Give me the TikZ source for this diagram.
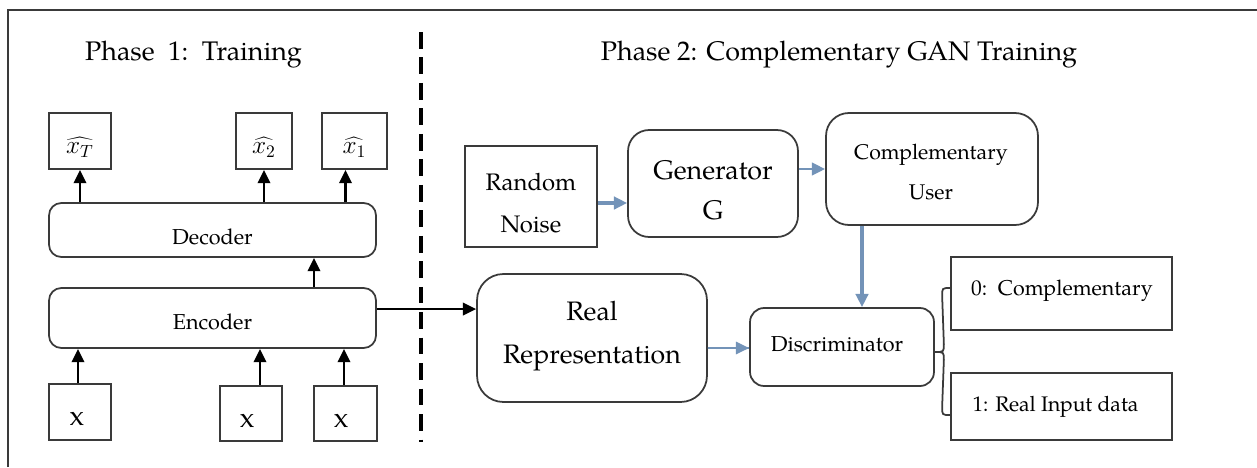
\documentclass[tikz,border=0pt]{standalone}
\usepackage{fontspec}
\setmainfont{TeX Gyre Pagella}
\usetikzlibrary{arrows.meta,calc}
\definecolor{frame}{HTML}{3A3A3A}
\definecolor{steel}{HTML}{7393B8}
\tikzset{
  box/.style={draw=frame, line width=1pt, inner sep=0pt},
  rbox/.style={box, rounded corners=#1},
  txt/.style={inner sep=0pt, align=center},
  blk/.style={draw=black, line width=1.4pt, -{Triangle[width=7pt,length=7.5pt]}},
  blu/.style={draw=steel, line width=1.6pt, -{Triangle[width=7pt,length=7.5pt]}},
}
\begin{document}
\begin{tikzpicture}[x=0.02cm, y=-0.02cm]
\useasboundingbox (0,0) rectangle (1257,467);

% partial outer frame
\draw[frame, line width=1.2pt] (8,467) -- (8,10) -- (1257,10);

% phase separator
\draw[black, line width=2pt, dash pattern=on 9.5pt off 5pt] (421,32) -- (421,442);

% titles
\node[txt, font=\fontsize{15.3}{18}\selectfont] (t1) at (193.5,55) {Phase\ \ 1:\ \ Training};
\node[txt, font=\fontsize{15.3}{18}\selectfont] (t2) at (839,55) {Phase 2: Complementary GAN Training};

% ---- Phase 1: autoencoder ----
\node[box, minimum width=1.24cm, minimum height=1.12cm] (oT) at (80,141) {};
\node[box, minimum width=1.12cm, minimum height=1.12cm] (o2) at (264,141) {};
\node[box, minimum width=1.30cm, minimum height=1.12cm] (o1) at (354.5,141) {};
\node[txt, font=\fontsize{14.5}{16}\selectfont] (loT) at (80,147) {$\widehat{x_T}$};
\node[txt, font=\fontsize{14.5}{16}\selectfont] (lo2) at (264,147) {$\widehat{x_2}$};
\node[txt, font=\fontsize{14.5}{16}\selectfont] (lo1) at (354.5,147) {$\widehat{x_1}$};

\node[rbox=7pt, minimum width=6.54cm, minimum height=1.08cm] (dec) at (212.5,230) {};
\node[txt, font=\fontsize{12.3}{14}\selectfont] (ldec) at (212.5,237) {Decoder};
\node[rbox=7pt, minimum width=6.54cm, minimum height=1.20cm] (enc) at (212.5,318) {};
\node[txt, font=\fontsize{12.3}{14}\selectfont] (lenc) at (212.5,322) {Encoder};

\node[box, minimum width=1.24cm, minimum height=1.12cm] (i1) at (80,412) {};
\node[box, minimum width=1.24cm, minimum height=1.10cm] (i2) at (251,413.5) {};
\node[box, minimum width=1.26cm, minimum height=1.10cm] (i3) at (345.5,413.5) {};
\node[txt, font=\fontsize{16}{18}\selectfont] (li1) at (77,419) {x};
\node[txt, font=\fontsize{16}{18}\selectfont] (li2) at (247,421) {x};
\node[txt, font=\fontsize{16}{18}\selectfont] (li3) at (341,421) {x};

\draw[blk] (dec.north -| oT) -- (oT.south);
\draw[blk] (dec.north -| o2) -- (o2.south);
\draw[blk] ($(dec.north -| o1)+(-9,0)$) coordinate (d1) -- (d1 |- o1.south);
\draw[blk] ($(enc.north)+(101.5,0)$) coordinate (e0) -- (e0 |- dec.south);
\draw[blk] ($(i1.north)+(-2,0)$) coordinate (a1) -- (a1 |- enc.south);
\draw[blk] ($(i2.north)+(9,0)$) coordinate (a2) -- (a2 |- enc.south);
\draw[blk] ($(i3.north)+(-1.5,0)$) coordinate (a3) -- (a3 |- enc.south);

% ---- Phase 2: complementary GAN ----
\node[box, minimum width=2.64cm, minimum height=2.02cm] (rn) at (531,196.5) {};
\node[txt, font=\fontsize{13.6}{24}\selectfont] (lrn) at (531,203) {Random\\Noise};
\node[rbox=12pt, minimum width=3.40cm, minimum height=2.14cm] (gen) at (713,183.5) {};
\node[txt, font=\fontsize{15.3}{22.5}\selectfont] (lgen) at (713,190) {Generator\\G};
\node[rbox=13pt, minimum width=4.24cm, minimum height=2.24cm] (cu) at (932,169) {};
\node[txt, font=\fontsize{12.1}{23}\selectfont] (lcu) at (931,172) {Complementary\\User};
\node[rbox=15pt, minimum width=4.60cm, minimum height=2.56cm] (rr) at (592,338) {};
\node[txt, font=\fontsize{15.2}{24.5}\selectfont] (lrr) at (592,336) {Real\\Representation};
\node[rbox=8pt, minimum width=3.68cm, minimum height=1.56cm] (dis) at (842,347) {};
\node[txt, font=\fontsize{12.3}{14}\selectfont] (ldis) at (837,344.5) {Discriminator};
\node[box, minimum width=4.42cm, minimum height=1.46cm] (r0) at (1061.5,293.5) {};
\node[txt, font=\fontsize{12.2}{15}\selectfont] (lr0) at (1062,291) {0:\ \ Complementary};
\node[box, minimum width=4.42cm, minimum height=1.34cm] (r1) at (1061.5,406.5) {};
\node[txt, font=\fontsize{12}{15}\selectfont] (lr1) at (1055.5,406.5) {1: Real Input data};

% connectors
\draw[blk] ($(enc.east)+(0,-9)$) coordinate (e1) -- (e1 -| rr.west);
\draw[blu, line width=2.2pt] ($(rn.east)+(0,6.5)$) coordinate (n1) -- (n1 -| gen.west);
\draw[blu] (cu.west -| gen.east) -- (cu.west);
\draw[blu, line width=1.2pt] ($(dis.west)+(0,1)$) coordinate (r2) -- (r2 -| rr.east) -- (r2);
\draw[blu, line width=2.2pt] ($(cu.south)+(-70,0)$) coordinate (c1) -- (c1 |- dis.north);

% curly brace from the discriminator to its two outputs
\coordinate (bt) at ($(dis.east)+(0,5)$);
\coordinate (b0) at ($(r0.west)+(0,-5.5)$);
\coordinate (b1) at ($(r1.west)+(0,8.5)$);
\draw[frame, line width=1pt]
  (b0) .. controls ($(b0)+(-8,0)$) .. ($(b0)+(-8,8)$)
  -- ($(bt)+(9,-8)$) .. controls ($(bt)+(9,0)$) .. (bt)
  .. controls ($(bt)+(9,0)$) .. ($(bt)+(9,8)$)
  -- ($(b1)+(-8,-8)$) .. controls ($(b1)+(-8,0)$) .. (b1);
\end{tikzpicture}
\end{document}
